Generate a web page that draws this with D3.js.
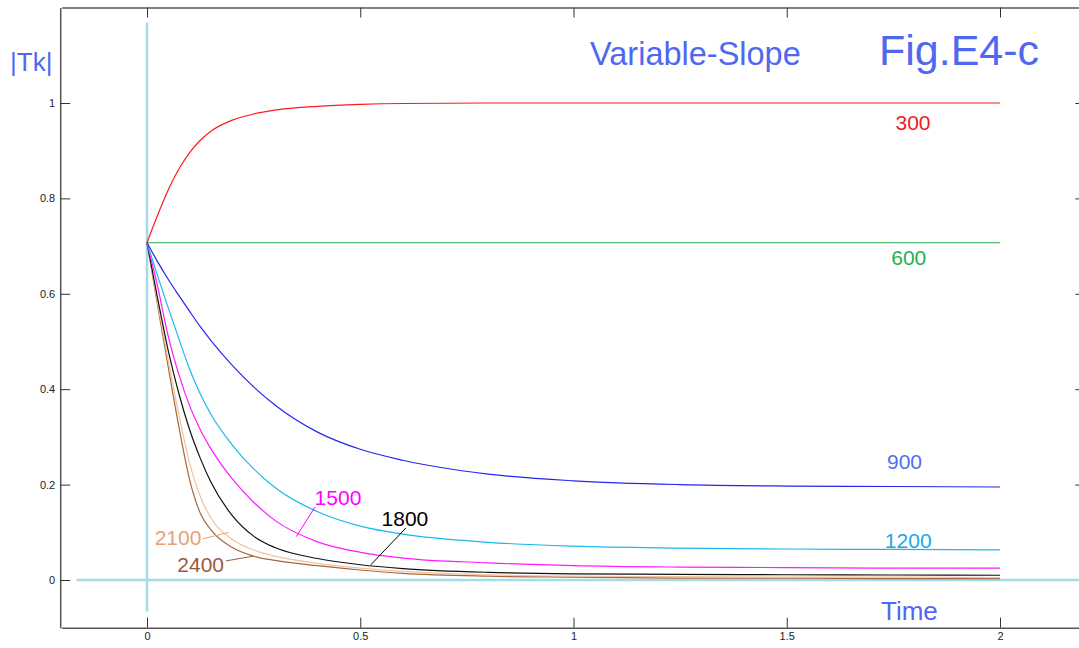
<!DOCTYPE html>
<html>
<head>
<meta charset="utf-8">
<script src="https://cdn.jsdelivr.net/npm/d3@7"></script>
<style>
  body { margin: 0; background: #fff; }
  text { font-family: "Liberation Sans", Arial, sans-serif; }
</style>
</head>
<body>
<div class="chart"></div>
<script>
// time samples (shared by every curve)
const time = [0, 0.025, 0.05, 0.075, 0.1, 0.125, 0.15, 0.2, 0.25, 0.3, 0.4, 0.5, 0.6, 0.8, 1.0, 1.25, 1.5, 1.75, 2.0];

// |Tk|, one array per slope value
const s300  = [0.707, 0.765, 0.818, 0.862, 0.896, 0.922, 0.941, 0.964, 0.977, 0.985, 0.993, 0.997, 0.999, 1, 1, 1, 1, 1, 1];
const s600  = [0.707, 0.707, 0.707, 0.707, 0.707, 0.707, 0.707, 0.707, 0.707, 0.707, 0.707, 0.707, 0.707, 0.707, 0.707, 0.707, 0.707, 0.707, 0.707];
const s900  = [0.707, 0.667, 0.630, 0.596, 0.563, 0.531, 0.502, 0.450, 0.405, 0.367, 0.310, 0.274, 0.251, 0.222, 0.208, 0.200, 0.197, 0.196, 0.195];
const s1200 = [0.707, 0.637, 0.570, 0.505, 0.442, 0.390, 0.347, 0.283, 0.233, 0.194, 0.143, 0.113, 0.096, 0.079, 0.071, 0.067, 0.065, 0.064, 0.063];
const s1500 = [0.707, 0.615, 0.510, 0.430, 0.365, 0.315, 0.275, 0.212, 0.163, 0.125, 0.080, 0.058, 0.046, 0.036, 0.030, 0.027, 0.026, 0.025, 0.025];
const s1800 = [0.707, 0.590, 0.480, 0.390, 0.315, 0.255, 0.205, 0.135, 0.092, 0.068, 0.045, 0.032, 0.024, 0.016, 0.013, 0.012, 0.011, 0.0105, 0.010];
const s2100 = [0.707, 0.580, 0.460, 0.345, 0.245, 0.175, 0.130, 0.085, 0.063, 0.050, 0.035, 0.025, 0.018, 0.011, 0.008, 0.007, 0.006, 0.006, 0.005];
const s2400 = [0.707, 0.575, 0.445, 0.320, 0.210, 0.140, 0.105, 0.068, 0.050, 0.041, 0.030, 0.021, 0.014, 0.008, 0.006, 0.004, 0.004, 0.003, 0.003];

const seriesNames = ["300", "600", "900", "1200", "1500", "1800", "2100", "2400"];
const xTicks = [0, 0.5, 1, 1.5, 2];
const yTicks = [0, 0.2, 0.4, 0.6, 0.8, 1];

function init(){

    const w = 1079, h = 648;

    const x = d3.scaleLinear().domain([-0.2, 2.2]).range([61.7, 1085.3]);
    const y = d3.scaleLinear().domain([-0.1, 1.2]).range([627.7, 7.6]);

    const svg = d3.select(".chart").append("svg").attr("width", w).attr("height", h);

    // line colour, label colour, label position (data units), leader line ends (data units)
    const styles = {
        "300":  {stroke: "#ff1a1a", label: "#ee1c24", lx: 1.755, ly: 0.944},
        "600":  {stroke: "#22b14c", label: "#22b14c", lx: 1.745, ly: 0.66},
        "900":  {stroke: "#2626f0", label: "#4f6ff0", lx: 1.735, ly: 0.232},
        "1200": {stroke: "#1ab8ee", label: "#1aa8e8", lx: 1.73, ly: 0.068},
        "1500": {stroke: "#ff1aff", label: "#ff00ff", lx: 0.393, ly: 0.157, tx: 0.35, ty: 0.091, ax: 0.394, ay: 0.153},
        "1800": {stroke: "#111111", label: "#000000", lx: 0.55, ly: 0.114, tx: 0.525, ty: 0.032, ax: 0.607, ay: 0.109},
        "2100": {stroke: "#f2c29c", label: "#e6a274", lx: 0.018, ly: 0.073, tx: 0.192, ty: 0.100, ax: 0.13, ay: 0.086},
        "2400": {stroke: "#a5673f", label: "#9c5a3a", lx: 0.071, ly: 0.016, tx: 0.249, ty: 0.05, ax: 0.185, ay: 0.04}
    };
    const values = [s300, s600, s900, s1200, s1500, s1800, s2100, s2400];

    // frame + inward ticks on all four sides
    svg.append("g")
        .attr("transform", `translate(0,${y(-0.1)})`)
        .call(d3.axisBottom(x).tickValues(xTicks).tickSizeInner(-10).tickSizeOuter(0).tickPadding(5).tickFormat(d3.format("")))
        .call(g => g.select(".domain").attr("stroke", "#555").attr("stroke-width", 1.5))
        .call(g => g.selectAll(".tick line").attr("stroke", "#333"))
        .call(g => g.selectAll("text").attr("font-size", 11).attr("fill", "#222").attr("font-family", "Liberation Sans Narrow, Liberation Sans"));

    svg.append("g")
        .attr("transform", `translate(0,${y(1.2)})`)
        .call(d3.axisTop(x).tickValues(xTicks).tickSizeInner(-10).tickSizeOuter(0).tickFormat(""))
        .call(g => g.select(".domain").attr("stroke", "#555").attr("stroke-width", 1.5))
        .call(g => g.selectAll(".tick line").attr("stroke", "#333"));

    svg.append("g")
        .attr("transform", `translate(${x(-0.2) - 1.5},0)`)
        .call(d3.axisLeft(y).tickValues(yTicks).tickSizeInner(-10).tickSizeOuter(0).tickPadding(5).tickFormat(d3.format("")))
        .call(g => g.select(".domain").attr("stroke", "#555").attr("stroke-width", 1.5))
        .call(g => g.selectAll(".tick line").attr("stroke", "#333"))
        .call(g => g.selectAll("text").attr("font-size", 11).attr("fill", "#222").attr("font-family", "Liberation Sans Narrow, Liberation Sans"));

    svg.append("g")
        .attr("transform", `translate(${x(2.2)},0)`)
        .call(d3.axisRight(y).tickValues(yTicks).tickSizeInner(-10).tickSizeOuter(0).tickFormat(""))
        .call(g => g.select(".domain").attr("stroke", "#555").attr("stroke-width", 1.5))
        .call(g => g.selectAll(".tick line").attr("stroke", "#333"));

    // light blue coordinate axes
    svg.append("line")
        .attr("x1", x(0)).attr("x2", x(0))
        .attr("y1", y(1.168)).attr("y2", y(-0.066))
        .attr("stroke", "#a3dbe8").attr("stroke-width", 2.5);
    svg.append("line")
        .attr("x1", x(-0.165)).attr("x2", x(2.2))
        .attr("y1", y(0)).attr("y2", y(0))
        .attr("stroke", "#a3dbe8").attr("stroke-width", 2.5);

    const line = d3.line()
        .x((d, i) => x(time[i]))
        .y(d => y(d))
        .curve(d3.curveMonotoneX);

    // draw faster curves first so the red/blue sit on top like the original
    const order = [7, 6, 5, 4, 3, 2, 1, 0];
    for (const k of order){
        const name = seriesNames[k];
        svg.append("path")
            .datum(values[k])
            .attr("fill", "none")
            .attr("stroke", styles[name].stroke)
            .attr("stroke-width", 1.2)
            .attr("d", line);
    }

    // curve labels with leader lines
    seriesNames.forEach(function(name){
        const s = styles[name];
        if (s.tx !== undefined){
            svg.append("line")
                .attr("x1", x(s.ax)).attr("y1", y(s.ay))
                .attr("x2", x(s.tx)).attr("y2", y(s.ty))
                .attr("stroke", s.label).attr("stroke-width", 1);
        }
        svg.append("text")
            .attr("x", x(s.lx))
            .attr("y", y(s.ly))
            .attr("fill", s.label)
            .attr("font-size", 21)
            .text(name);
    });

    // titles
    svg.append("text").attr("x", 10).attr("y", 71).attr("fill", "#5068f0").attr("font-size", 26).text("|Tk|");
    svg.append("text").attr("x", 590).attr("y", 65).attr("fill", "#5068f0").attr("font-size", 32.5).text("Variable-Slope");
    svg.append("text").attr("x", 879).attr("y", 65).attr("fill", "#5068f0").attr("font-size", 43).text("Fig.E4-c");
    svg.append("text").attr("x", 881).attr("y", 620).attr("fill", "#5068f0").attr("font-size", 26).text("Time");
}
window.onload = init;
</script>
</body>
</html>
